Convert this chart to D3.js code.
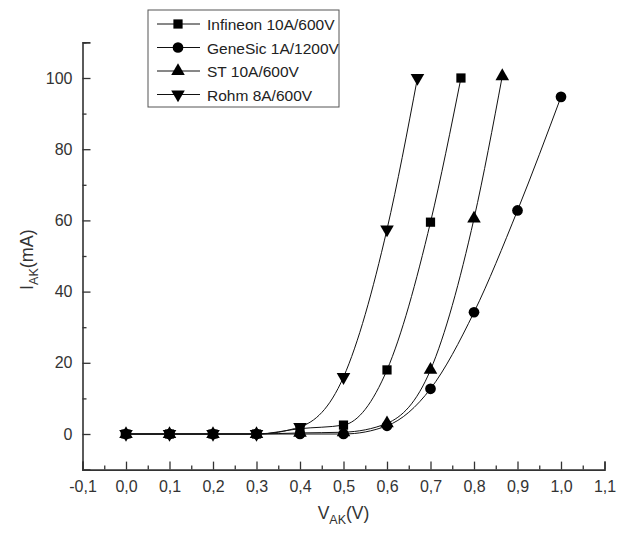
<!DOCTYPE html>
<html>
<head>
<meta charset="utf-8">
<script src="https://cdn.jsdelivr.net/npm/d3@7"></script>
<style>
  body { margin: 0; background: #fff; }
  svg text { font-family: "Liberation Sans", Arial, sans-serif; }
</style>
</head>
<body>
<div id="chart"></div>
<script>
// series data
const seriesNames = ['Infineon 10A/600V', 'GeneSic 1A/1200V', 'ST 10A/600V', 'Rohm 8A/600V'];
const infineonV = [0.0, 0.1, 0.2, 0.3, 0.4, 0.5, 0.6, 0.7, 0.77];
const infineonI = [0, 0, 0, 0, 1.5, 2.5, 18, 59.5, 100];
const genesicV = [0.0, 0.1, 0.2, 0.3, 0.4, 0.5, 0.6, 0.7, 0.8, 0.9, 1.0];
const genesicI = [0, 0, 0, 0, 0, 0, 2.3, 12.7, 34.2, 62.8, 94.7];
const stV = [0.0, 0.1, 0.2, 0.3, 0.4, 0.5, 0.6, 0.7, 0.8, 0.865];
const stI = [0, 0, 0, 0, 0.3, 0.5, 3, 18, 60.5, 100.5];
const rohmV = [0.0, 0.1, 0.2, 0.3, 0.4, 0.5, 0.6, 0.67];
const rohmI = [0, 0, 0, 0, 2, 16, 57.5, 100];

const xTicks = [-0.1, 0.0, 0.1, 0.2, 0.3, 0.4, 0.5, 0.6, 0.7, 0.8, 0.9, 1.0, 1.1];
const xMinor = [-0.05, 0.05, 0.15, 0.25, 0.35, 0.45, 0.55, 0.65, 0.75, 0.85, 0.95, 1.05];
const yTicks = [0, 20, 40, 60, 80, 100];
const yMinor = [10, 30, 50, 70, 90, 110];

const width = 624, height = 533;

const svg = d3.select('#chart').append('svg')
  .attr('width', width)
  .attr('height', height);

const x = d3.scaleLinear().domain([-0.1, 1.1]).range([82.5, 604.5]);
const y = d3.scaleLinear().domain([-10, 110]).range([469.6, 42.4]);

const axisColor = '#333';
// hyphen minus and comma decimal, as in the original
const fmt = d => d3.format('.1f')(d).replace('.', ',').replace('\u2212', '-');

svg.append('g')
  .attr('transform', `translate(0,${y(-10)})`)
  .call(d3.axisBottom(x).tickValues(xTicks).tickFormat(fmt).tickSize(-8).tickPadding(11));
svg.append('g')
  .attr('transform', `translate(0,${y(-10)})`)
  .call(d3.axisBottom(x).tickValues(xMinor).tickFormat('').tickSize(-4))
  .call(g => g.select('.domain').remove());

svg.append('g')
  .attr('transform', `translate(${x(-0.1)},0)`)
  .call(d3.axisLeft(y).tickValues(yTicks).tickFormat(d => d).tickSize(-8).tickPadding(10));
svg.append('g')
  .attr('transform', `translate(${x(-0.1)},0)`)
  .call(d3.axisLeft(y).tickValues(yMinor).tickFormat('').tickSize(-4))
  .call(g => g.select('.domain').remove());

svg.selectAll('.domain').attr('stroke', axisColor).attr('stroke-width', 1.6);
svg.selectAll('.tick line').attr('stroke', axisColor).attr('stroke-width', 1.3);
svg.selectAll('.tick text')
  .attr('fill', axisColor)
  .style('font-size', '16px')
  .style('font-family', '"Liberation Sans", Arial, sans-serif');

// axis titles
const yTitle = svg.append('text')
  .attr('transform', `translate(33,${y(49)}) rotate(-90)`)
  .attr('text-anchor', 'middle')
  .attr('fill', axisColor)
  .style('font-size', '18px');
yTitle.append('tspan').text('I');
yTitle.append('tspan').attr('dy', 5).style('font-size', '12.5px').text('AK');
yTitle.append('tspan').attr('dy', -5).text('(mA)');

const xTitle = svg.append('text')
  .attr('x', x(0.5))
  .attr('y', 519)
  .attr('text-anchor', 'middle')
  .attr('fill', axisColor)
  .style('font-size', '17.5px');
xTitle.append('tspan').text('V');
xTitle.append('tspan').attr('dy', 5).style('font-size', '12.5px').text('AK');
xTitle.append('tspan').attr('dy', -5).text('(V)');

// series
const symbols = [
  { type: d3.symbolSquare, size: 85, rot: 0 },
  { type: d3.symbolCircle, size: 90, rot: 0 },
  { type: d3.symbolTriangle, size: 80, rot: 0 },
  { type: d3.symbolTriangle, size: 80, rot: 180 },
];
const series = [
  { name: seriesNames[0], v: infineonV, i: infineonI, sym: symbols[0] },
  { name: seriesNames[1], v: genesicV, i: genesicI, sym: symbols[1] },
  { name: seriesNames[2], v: stV, i: stI, sym: symbols[2] },
  { name: seriesNames[3], v: rohmV, i: rohmI, sym: symbols[3] },
];

const line = d3.line()
  .x(d => x(d[0]))
  .y(d => y(d[1]))
  .curve(d3.curveMonotoneX);

series.forEach((s) => {
  const pts = s.v.map((v, k) => [v, s.i[k]]);
  svg.append('path')
    .datum(pts)
    .attr('fill', 'none')
    .attr('stroke', '#111')
    .attr('stroke-width', 1)
    .attr('d', line);
  svg.append('g').selectAll('path')
    .data(pts)
    .enter().append('path')
    .attr('d', d3.symbol().type(s.sym.type).size(s.sym.size))
    .attr('transform', d => `translate(${x(d[0])},${y(d[1])}) rotate(${s.sym.rot})`)
    .attr('fill', '#000');
});

// legend
const legend = svg.append('g').attr('transform', 'translate(148,10)');
legend.append('rect')
  .attr('width', 191).attr('height', 97)
  .attr('fill', '#fff')
  .attr('stroke', '#555')
  .attr('stroke-width', 1);
series.forEach((s, k) => {
  const ly = 14 + k * 23.5;
  legend.append('line')
    .attr('x1', 9).attr('x2', 52).attr('y1', ly).attr('y2', ly)
    .attr('stroke', '#111').attr('stroke-width', 1);
  legend.append('path')
    .attr('d', d3.symbol().type(s.sym.type).size(s.sym.size))
    .attr('transform', `translate(30,${ly}) rotate(${s.sym.rot})`)
    .attr('fill', '#000');
  legend.append('text')
    .attr('x', 59).attr('y', ly + 6)
    .attr('fill', '#222')
    .style('font-size', '15.5px')
    .text(s.name);
});
</script>
</body>
</html>
